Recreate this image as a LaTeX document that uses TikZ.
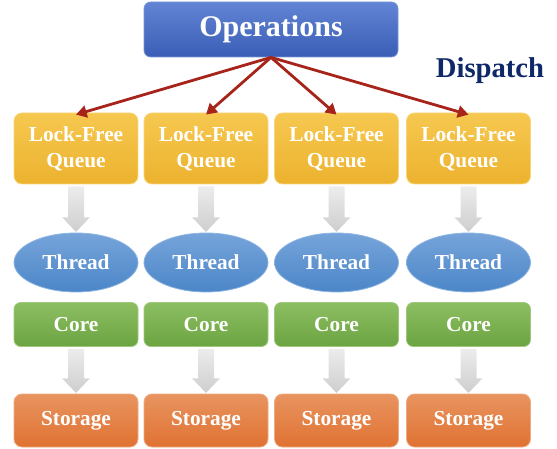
\documentclass[tikz,border=0pt]{standalone}
\usepackage{fontspec}
\setmainfont{Liberation Serif}
\usetikzlibrary{arrows.meta,shapes.geometric,calc}

\definecolor{opsTop}{RGB}{98,132,212}
\definecolor{opsBot}{RGB}{58,94,182}
\definecolor{opsLine}{RGB}{120,150,215}
\definecolor{qTop}{RGB}{246,200,80}
\definecolor{qBot}{RGB}{236,178,46}
\definecolor{qLine}{RGB}{248,214,120}
\definecolor{thTop}{RGB}{118,164,218}
\definecolor{thBot}{RGB}{76,134,200}
\definecolor{thLine}{RGB}{140,180,225}
\definecolor{coTop}{RGB}{140,190,98}
\definecolor{coBot}{RGB}{108,164,66}
\definecolor{coLine}{RGB}{160,200,125}
\definecolor{stTop}{RGB}{232,148,96}
\definecolor{stBot}{RGB}{224,114,50}
\definecolor{stLine}{RGB}{238,170,128}
\definecolor{dispatchBlue}{RGB}{14,40,104}
\definecolor{linkRed}{RGB}{166,36,26}
\definecolor{flowTop}{RGB}{236,236,236}
\definecolor{flowBot}{RGB}{206,206,206}

\tikzset{
  lbl/.style={text=white, font=\bfseries\fontsize{16}{19.5}\selectfont, align=center, inner sep=0pt},
  opsbox/.style={lbl, rounded corners=5pt, draw=opsLine, line width=0.6pt,
    top color=opsTop, bottom color=opsBot,
    minimum width=190.5pt, minimum height=41.25pt,
    font=\bfseries\fontsize{22.5}{27}\selectfont},
  queuebox/.style={lbl, rounded corners=6pt, draw=qLine, line width=0.6pt,
    top color=qTop, bottom color=qBot, minimum width=93pt, minimum height=53.25pt},
  threadbox/.style={lbl, ellipse, draw=thLine, line width=0.6pt,
    top color=thTop, bottom color=thBot, minimum width=93pt, minimum height=44.25pt},
  corebox/.style={lbl, rounded corners=5pt, draw=coLine, line width=0.6pt,
    top color=coTop, bottom color=coBot, minimum width=93pt, minimum height=33pt},
  storebox/.style={lbl, rounded corners=6pt, draw=stLine, line width=0.6pt,
    top color=stTop, bottom color=stBot, minimum width=93pt, minimum height=39.75pt},
  dispatchlink/.style={draw=linkRed, line width=2.1pt,
    -{Triangle[length=8pt,width=9pt]}},
  flowarrow/.style={top color=flowTop, bottom color=flowBot, draw=none},
}

% block arrow pointing down between two stacked nodes
\newcommand{\flowdown}[2]{%
  \path[flowarrow]
    ($(#1.south)+(-6pt,-1.5pt)$) -- ($(#1.south)+(6pt,-1.5pt)$)
    -- ($(#2.north)+(6pt,11.5pt)$) -- ($(#2.north)+(10.5pt,11.5pt)$)
    -- ($(#2.north)+(0,0.5pt)$)
    -- ($(#2.north)+(-10.5pt,11.5pt)$) -- ($(#2.north)+(-6pt,11.5pt)$) -- cycle;}

\begin{document}
\begin{tikzpicture}[x=0.75pt,y=-0.75pt]
  \useasboundingbox (0,0) rectangle (557,449);

  \node[opsbox] (ops) at (271,29.5) {Operations};
  \node[font=\bfseries\fontsize{21.5}{24}\selectfont, text=dispatchBlue, inner sep=0pt]
    (dispatch) at (490,70.5) {Dispatch};

  \foreach \i/\x in {1/76,2/206,3/336.5,4/468.5}{
    \node[queuebox]  (q\i) at (\x,148.5) {Lock-Free\\Queue};
    \node[threadbox] (t\i) at (\x,262.5) {Thread};
    \node[corebox]   (c\i) at (\x,324.5) {Core};
    \node[storebox]  (s\i) at (\x,420.5) {Storage};
    \flowdown{q\i}{t\i}
    \flowdown{c\i}{s\i}
    \draw[dispatchlink] (ops.south) -- ($(q\i.north)+(0,-1.5pt)$);
  }
\end{tikzpicture}
\end{document}
